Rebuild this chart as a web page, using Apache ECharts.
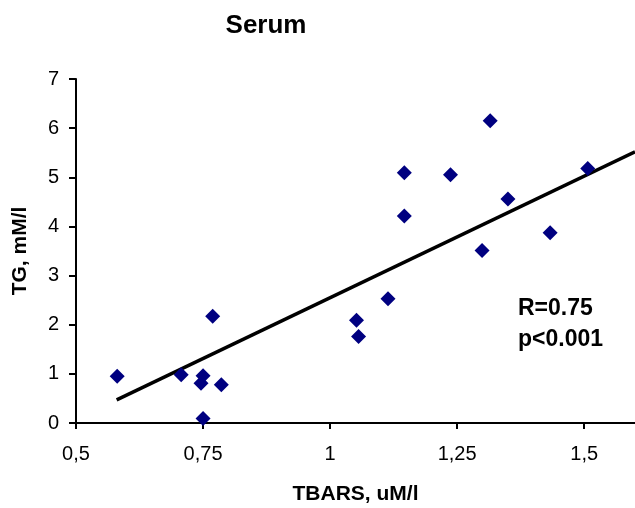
<!DOCTYPE html>
<html>
<head>
<meta charset="utf-8">
<script src="https://cdn.jsdelivr.net/npm/echarts@6/dist/echarts.min.js"></script>
<style>
html,body{margin:0;padding:0;background:#fff;}
#chart{width:635px;height:508px;}
</style>
</head>
<body>
<div id="chart"></div>
<script>
// Data
const tbars = [0.581, 0.707, 0.750, 0.746, 0.786, 0.769, 0.750, 1.052, 1.056, 1.114, 1.146, 1.146, 1.237, 1.299, 1.315, 1.350, 1.433, 1.507];
const tg    = [0.95, 0.98, 0.96, 0.81, 0.78, 2.17, 0.09, 2.09, 1.76, 2.53, 4.21, 5.09, 5.05, 3.51, 6.15, 4.56, 3.87, 5.18];
const trendX = [0.58, 1.6];
const trendY = [0.47, 5.52];
const xTicks = [0.5, 0.75, 1, 1.25, 1.5];
const yTicks = [0, 1, 2, 3, 4, 5, 6, 7];
const titleText = 'Serum';
const statLines = ['R=0.75', 'p<0.001'];

const FONT = '"Liberation Sans", Arial, sans-serif';
const chart = echarts.init(document.getElementById('chart'), null, {renderer: 'canvas'});

const points = tbars.map((x, i) => [x, tg[i]]);
const trend = trendX.map((x, i) => [x, trendY[i]]);

chart.setOption({
  animation: false,
  backgroundColor: '#ffffff',
  grid: {left: 76, right: 0, top: 79, bottom: 85, containLabel: false, outerBoundsMode: 'none'},
  xAxis: {
    type: 'value', min: 0.5, max: 1.6, interval: 0.25,
    name: 'TBARS, uM/l', nameLocation: 'middle', nameGap: 61,
    nameTextStyle: {fontFamily: FONT, fontWeight: 'bold', fontSize: 21, color: '#000'},
    axisLine: {show: true, lineStyle: {color: '#000', width: 2}},
    axisTick: {show: true, inside: false, length: 6, lineStyle: {color: '#000', width: 2}, customValues: xTicks},
    axisLabel: {show: true, fontFamily: FONT, fontSize: 20, color: '#000', margin: 21, customValues: xTicks,
      formatter: v => String(v).replace('.', ',')},
    splitLine: {show: false}
  },
  yAxis: {
    type: 'value', min: 0, max: 7, interval: 1,
    name: 'TG, mM/l', nameLocation: 'middle', nameGap: 45, nameRotate: 90,
    nameTextStyle: {fontFamily: FONT, fontWeight: 'bold', fontSize: 21, color: '#000'},
    axisLine: {show: true, lineStyle: {color: '#000', width: 2}},
    axisTick: {show: true, inside: false, length: 7, lineStyle: {color: '#000', width: 2}, customValues: yTicks},
    axisLabel: {show: true, fontFamily: FONT, fontSize: 20, color: '#000', margin: 17, customValues: yTicks},
    splitLine: {show: false}
  },
  graphic: [
    {type: 'text', x: 266, y: 26, style: {text: titleText, font: 'bold 26px ' + FONT, fill: '#000', align: 'center', verticalAlign: 'middle'}},
    {type: 'text', x: 518, y: 309, style: {text: statLines[0], font: 'bold 23px ' + FONT, fill: '#000', align: 'left', verticalAlign: 'middle'}},
    {type: 'text', x: 518, y: 340, style: {text: statLines[1], font: 'bold 23px ' + FONT, fill: '#000', align: 'left', verticalAlign: 'middle'}}
  ],
  series: [
    {
      type: 'line', data: trend, symbol: 'none', silent: true,
      lineStyle: {color: '#000', width: 3.5}, z: 2
    },
    {
      type: 'scatter', data: points, symbol: 'diamond', symbolSize: 15,
      itemStyle: {color: '#000080', opacity: 1}, z: 3
    }
  ]
});
</script>
</body>
</html>
